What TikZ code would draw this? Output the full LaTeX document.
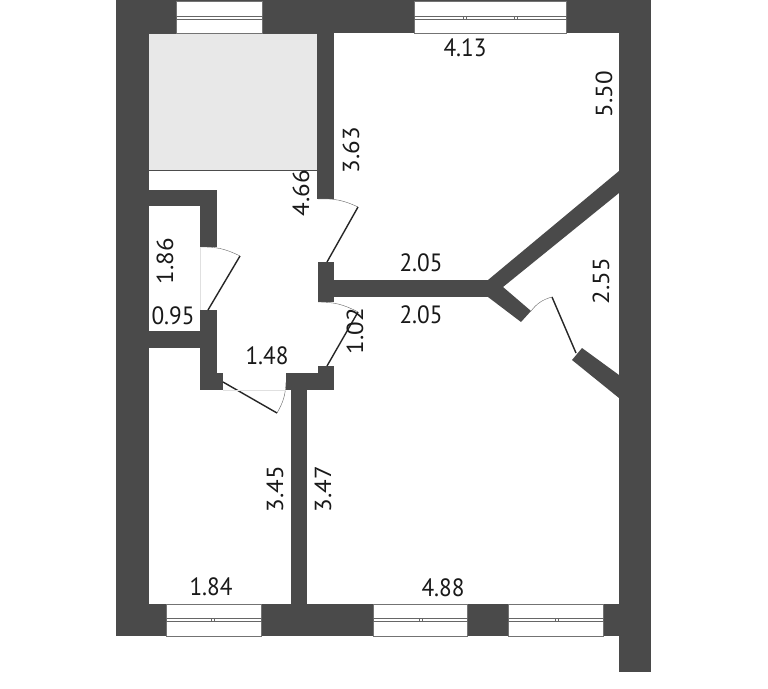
\documentclass[tikz,border=0pt]{standalone}
\usepackage{fontspec}
\setmainfont{PT Sans}
\definecolor{wallgray}{HTML}{4A4A4A}
\definecolor{roomgray}{HTML}{E8E8E8}
\begin{document}
\begin{tikzpicture}[x=1pt,y=-1pt]
        \tikzstyle{wall}=[fill=wallgray,draw=none]
        \tikzstyle{frame}=[fill=white,draw=gray!90!black,line width=.8pt]
        \tikzstyle{pane}=[draw=gray!80!black,line width=.7pt]
        \tikzstyle{leaf}=[draw=black!85,line width=1.4pt]
        \tikzstyle{swing}=[draw=black!60,line width=.4pt]
        \tikzstyle{size}=[font=\fontsize{25}{25}\selectfont,text=black!90,inner sep=0pt,xscale=.93]
        \useasboundingbox[fill=white] (0,0) rectangle (768,688);
        % outer walls
        \fill[wall] (116,0) rectangle (149,636);
        \fill[wall] (116,0) rectangle (651,33);
        \fill[wall] (116,604) rectangle (619,636);
        \fill[wall] (619,0) rectangle (651,672);
        % inner walls
        \fill[roomgray] (149,33) rectangle (317,170);
        \draw[black!70,line width=.6pt] (149,33) -- (317,33) (149,170.5) -- (317,170.5);
        \fill[wall] (317,33) rectangle (334,199);
        \fill[wall] (149,190) rectangle (217,206);
        \fill[wall] (200,190) rectangle (217,247);
        \fill[wall] (200,310) rectangle (217,390);
        \fill[wall] (200,373) rectangle (223,390);
        \fill[wall] (149,331) rectangle (200,348);
        \fill[wall] (318,262) rectangle (334,302);
        \fill[wall] (334,280) rectangle (490,297);
        \fill[wall] (318,366) rectangle (334,390);
        \fill[wall] (286,373) rectangle (334,390);
        \fill[wall] (291,373) rectangle (307,604);
        \fill[wall] (488,280) -- (619,171) -- (619,193) -- (503,287) -- (531,311) -- (521,322) -- (488,297) -- cycle;
        \fill[wall] (572,360) -- (582,348) -- (619,375) -- (619,398) -- cycle;
        % windows
        \foreach \xa/\xb/\ya/\yb in {176/262/1/33,414/566/1/33,166/261/604/636,373/467/604/636,508/603/604/636}
            \draw[frame] (\xa,\ya) rectangle (\xb,\yb);
        \foreach \xa/\xb/\ya in {176/262/16,414/566/16,166/261/618,373/467/618,508/603/618}
            \draw[pane] (\xa,\ya) rectangle (\xb,\ya+3.5);
        \foreach \xa/\ya in {211/618,214/618,463/16,466/16,514/16,517/16,419/618,422/618,555/618,558/618}
            \draw[pane,line width=.5pt] (\xa,\ya) -- (\xa,\ya+3.5);
        % doors
        \draw[leaf] (327,262) -- (358,207);
        \draw[swing] (318,199) to[bend left=14] (358,207);
        \draw[leaf] (208,310) -- (240,256);
        \draw[swing] (200,247) to[bend left=14] (240,256);
        \draw[swing,black!12] (200,247) -- (200,310);
        \draw[leaf] (327,366) -- (358,312);
        \draw[swing] (318,302) to[bend left=14] (358,312);
        \draw[leaf] (223,382) -- (277,413);
        \draw[swing] (277,413) to[bend right=14] (286,382);
        \draw[swing,black!12] (223,390) -- (286,390);
        \draw[leaf] (552,297) -- (576,353);
        \draw[swing] (531,311) to[bend left=18] (552,297);
        % sizes
        \node[size] (top) at (465,48) {4.13};
        \node[size,rotate=90] (rightup) at (604,94) {5.50};
        \node[size,rotate=90] (pierup) at (351,150) {3.63};
        \node[size,rotate=90] (hallup) at (301,193) {4.66};
        \node[size] (midup) at (421,263) {2.05};
        \node[size] (middown) at (421,315) {2.05};
        \node[size,rotate=90] (rightmid) at (601,281) {2.55};
        \node[size,rotate=90] (closetside) at (165,261) {1.86};
        \node[size] (closetbase) at (173,316) {0.95};
        \node[size] (hallbase) at (267,356) {1.48};
        \node[size,rotate=90] (passage) at (355,331) {1.02};
        \node[size,rotate=90] (roomleft) at (275,489) {3.45};
        \node[size,rotate=90] (roomright) at (323,489) {3.47};
        \node[size] (bottomleft) at (211,587) {1.84};
        \node[size] (bottomright) at (443,588) {4.88};
    \end{tikzpicture}
\end{document}
